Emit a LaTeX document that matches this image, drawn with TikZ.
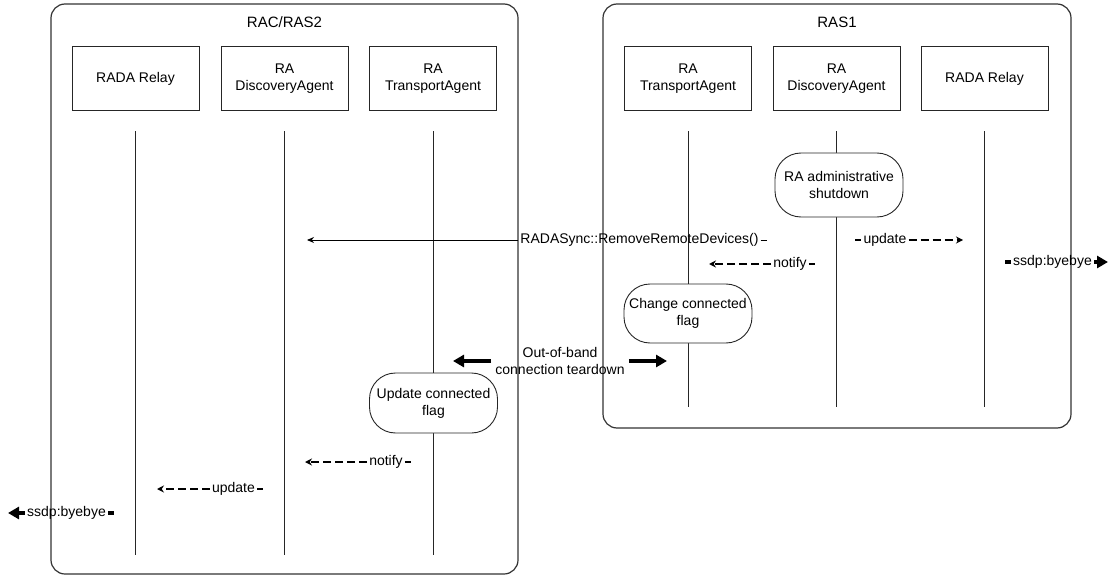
\documentclass[tikz,border=0pt]{standalone}
\usepackage{fontspec}
\setmainfont{Liberation Sans}
\usetikzlibrary{arrows.meta,calc}

\begin{document}
\begin{tikzpicture}[x=1pt,y=-1pt,
  font=\fontsize{14}{17}\selectfont,
  container/.style={draw=black!80, line width=1.2pt, rounded corners=14pt},
  title/.style={font=\fontsize{15}{18}\selectfont},
  agent/.style={draw=black!85, line width=1pt, minimum width=127pt, minimum height=64pt,
                align=center, inner sep=0pt},
  life/.style={line width=1pt, black!85},
  action/.style={draw=black!85, fill=white, line width=0.9pt, rounded corners=26pt,
                 minimum width=128pt, minimum height=60pt, align=center, inner sep=0pt},
  lbl/.style={inner sep=2pt},
  callmsg/.style={line width=1pt, -{Stealth[length=7pt,width=6pt]}},
  sigmsg/.style={line width=1.7pt, dash pattern=on 8pt off 4pt},
  sigtip/.style={sigmsg, -{Stealth[length=7pt,width=7pt]}},
  netmsg/.style={line width=3.5pt},
  nettip/.style={netmsg, -{Triangle[length=11pt,width=12pt]}},
  bandtip/.style={line width=4pt, -{Triangle[length=11pt,width=12pt]}}
]
\useasboundingbox (0,0) rectangle (1114,575);

% hosts
\node[container, minimum width=467pt, minimum height=570pt] (rac) at (284.5,289) {};
\node[title] (racT) at (284.5,22) {RAC/RAS2};
\node[container, minimum width=468pt, minimum height=424pt] (ras) at (837,216) {};
\node[title] (rasT) at (837,22) {RAS1};

% agents of RAC/RAS2
\node[agent] (lRelay) at (135.5,79) {RADA Relay};
\node[agent] (lDisc)  at (284.5,79) {RA\\DiscoveryAgent};
\node[agent] (lTrans) at (433,79)   {RA\\TransportAgent};
% agents of RAS1
\node[agent] (rTrans) at (688,79)   {RA\\TransportAgent};
\node[agent] (rDisc)  at (836.5,79) {RA\\DiscoveryAgent};
\node[agent] (rRelay) at (984.5,79) {RADA Relay};

% lifelines
\foreach \a/\e in {lRelay/555, lDisc/555, lTrans/555, rTrans/407, rDisc/407, rRelay/407}{
  \coordinate (\a-top) at ($(\a.south)+(0,20)$);
  \coordinate (\a-end) at (\a.south |- 0,\e);
  \draw[life] (\a-top) -- (\a-end);
}

% local actions
\node[action, minimum height=64pt] (shut) at (839,185) {RA administrative\\shutdown};
\node[action, minimum height=59pt] (chg)  at (688,313.5) {Change connected\\flag};
\node[action] (upd) at (433.5,403) {Update connected\\flag};

% RADASync::RemoveRemoteDevices()
\node[lbl] (m1) at (639.5,240) {RADASync::RemoveRemoteDevices()};
\coordinate (m1tip) at (307,240);
\coordinate (m1tail) at ($(m1.east)+(6,0)$);
\draw[callmsg] (m1.west) -- (m1tip);
\draw[line width=1pt] (m1.east) -- (m1tail);

% notify (RAS1)
\node[lbl] (m2) at (790,264) {notify};
\coordinate (m2tip) at (709,264);
\coordinate (m2tail) at ($(m2.east)+(6,0)$);
\draw[sigtip] (m2.west) -- (m2tip);
\draw[sigmsg] (m2.east) -- (m2tail);

% update (RAS1)
\node[lbl] (m3) at (885,240) {update};
\coordinate (m3tail) at ($(m3.west)+(-6,0)$);
\coordinate (m3tip) at (963,240);
\draw[sigmsg] (m3tail) -- (m3.west);
\draw[sigtip] (m3.east) -- (m3tip);

% ssdp:byebye (RAS1)
\node[lbl] (m4) at (1052.5,262) {ssdp:byebye};
\coordinate (m4tail) at ($(m4.west)+(-6,0)$);
\coordinate (m4tip) at (1108,262);
\draw[netmsg] (m4tail) -- (m4.west);
\draw[nettip] (m4.east) -- (m4tip);

% out-of-band teardown
\node[align=center, inner sep=4pt] (m5) at (560,361) {Out-of-band\\connection teardown};
\coordinate (m5l) at (453,361);
\coordinate (m5r) at (667,361);
\draw[bandtip] (m5.west |- m5l) -- (m5l);
\draw[bandtip] (m5.east |- m5r) -- (m5r);

% notify (RAC/RAS2)
\node[lbl] (m6) at (386,462) {notify};
\coordinate (m6tip) at (305,462);
\coordinate (m6tail) at ($(m6.east)+(6,0)$);
\draw[sigtip] (m6.west) -- (m6tip);
\draw[sigmsg] (m6.east) -- (m6tail);

% update (RAC/RAS2)
\node[lbl] (m7) at (233.5,489) {update};
\coordinate (m7tip) at (157,489);
\coordinate (m7tail) at ($(m7.east)+(6,0)$);
\draw[sigtip] (m7.west) -- (m7tip);
\draw[sigmsg] (m7.east) -- (m7tail);

% ssdp:byebye (RAC/RAS2)
\node[lbl] (m8) at (66.5,513) {ssdp:byebye};
\coordinate (m8tip) at (8,513);
\coordinate (m8tail) at ($(m8.east)+(6,0)$);
\draw[nettip] (m8.west) -- (m8tip);
\draw[netmsg] (m8.east) -- (m8tail);
\end{tikzpicture}
\end{document}
